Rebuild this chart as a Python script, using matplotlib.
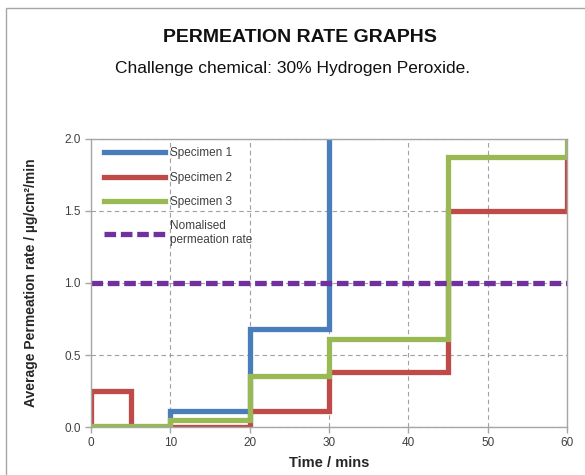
import matplotlib
matplotlib.use("Agg")
import matplotlib.pyplot as plt
from matplotlib.patches import Rectangle

plt.rcParams['font.family'] = ['Liberation Sans', 'DejaVu Sans']

# Data (step series, value holds from each time until the next)
s1_time = [0, 10, 20, 30]
s1_rate = [0.0, 0.11, 0.68, 2.10]
s2_time = [0, 0, 5, 10, 20, 30, 45, 60]
s2_rate = [0.0, 0.25, 0.0, 0.0, 0.11, 0.38, 1.50, 1.85]
s3_time = [0, 10, 20, 30, 45, 60]
s3_rate = [0.01, 0.05, 0.355, 0.61, 1.875, 2.10]
norm_time = [0, 60]
norm_rate = [1.0, 1.0]
labels = ["Specimen 1", "Specimen 2", "Specimen 3", "Nomalised\npermeation rate"]
xticks = [0, 10, 20, 30, 40, 50, 60]
yticks = [0.0, 0.5, 1.0, 1.5, 2.0]

fig = plt.figure(figsize=(5.85, 4.75), dpi=100)
fig.patch.set_facecolor('white')
# outer chart frame
fig.patches.append(Rectangle((6/585, -0.1), 1.2, (475-8)/475 + 0.1, transform=fig.transFigure,
                             fill=False, edgecolor='#a6a6a6', linewidth=1.0))

ax = fig.add_axes([91/585, 1-427/475, (567-91)/585, (427-139)/475])
lw = 3.8
ax.step(s1_time, s1_rate, where='post', color='#4a7ebb', lw=lw, label=labels[0], solid_joinstyle='miter')
ax.step(s2_time, s2_rate, where='post', color='#be4b48', lw=lw, label=labels[1], solid_joinstyle='miter')
ax.step(s3_time, s3_rate, where='post', color='#98b954', lw=lw, label=labels[2], solid_joinstyle='miter')
ax.plot(norm_time, norm_rate, color='#7030a0', lw=lw, ls=(0, (2.2, 0.9)), label=labels[3])

ax.set_xlim(0, 60)
ax.set_ylim(0, 2.0)
ax.set_xticks(xticks)
ax.set_yticks(yticks)
ax.set_yticklabels([f"{v:.1f}" for v in yticks])
ax.grid(True, color='#a0a0a0', ls=(0, (4, 3)), lw=0.8)
ax.set_axisbelow(True)
for sp in ax.spines.values():
    sp.set_color('#a6a6a6')
    sp.set_linewidth(1.0)
ax.tick_params(axis='both', colors='#a6a6a6', labelcolor='#404040', labelsize=8.5, length=4, width=1)

ax.set_xlabel("Time / mins", fontsize=10.5, fontweight='bold', color='#262626', labelpad=5)
ax.set_ylabel("Average Permeation rate / µg/cm²/min", fontsize=10, fontweight='bold', color='#262626', labelpad=19)

leg = ax.legend(loc='upper left', frameon=False, fontsize=8.5, handlelength=5.2, handletextpad=0.4,
                labelspacing=1.05, borderaxespad=0.3, bbox_to_anchor=(0.01, 1.0))
for t in leg.get_texts():
    t.set_color('#404040')

fig.text(300/585, 1-37/475, "PERMEATION RATE GRAPHS", ha='center', va='center', fontsize=14,
         fontweight='bold', color='#111111')
fig.text(293/585, 1-68/475, "Challenge chemical: 30% Hydrogen Peroxide.", ha='center', va='center',
         fontsize=12.5, color='#111111')

fig.savefig("out.png", dpi=100)
